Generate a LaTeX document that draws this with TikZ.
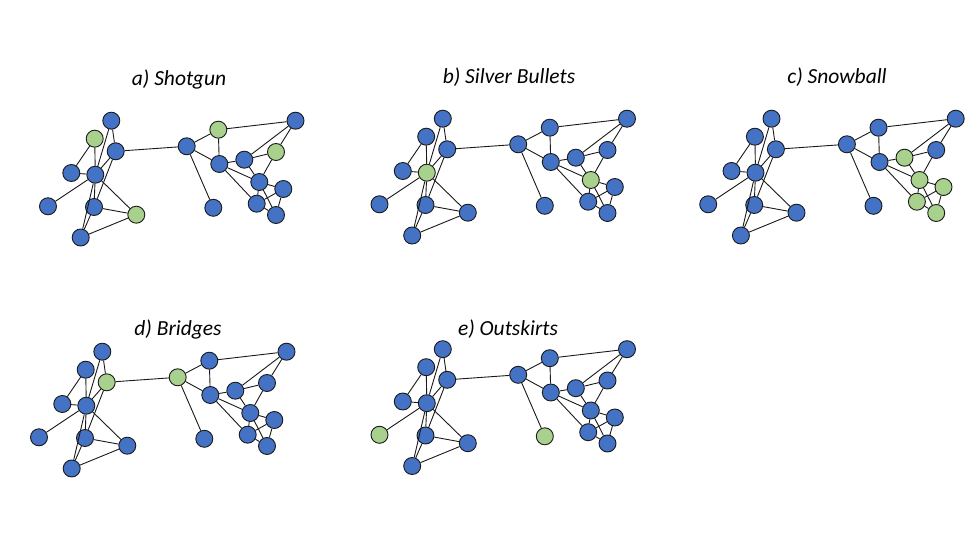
\documentclass[tikz,border=0pt]{standalone}
\usepackage{fontspec}
\setmainfont{Carlito}
\definecolor{nblue}{HTML}{4472C4}
\definecolor{ngreen}{HTML}{A9D18E}
\definecolor{nline}{HTML}{1A1A1A}
\tikzset{
  bn/.style={circle, draw=nline, fill=nblue, line width=0.9pt, minimum size=17pt, inner sep=0pt},
  gn/.style={bn, fill=ngreen},
  edge/.style={draw=nline, line width=0.9pt},
  ttl/.style={anchor=base, font=\itshape\fontsize{21.5}{25}\selectfont},
  nA/.style={bn}, nB/.style={bn}, nC/.style={bn}, nD/.style={bn}, nE/.style={bn},
  nF/.style={bn}, nG/.style={bn}, nH/.style={bn}, nI/.style={bn}, nJ/.style={bn},
  nK/.style={bn}, nL/.style={bn}, nM/.style={bn}, nN/.style={bn}, nO/.style={bn},
  nP/.style={bn}, nQ/.style={bn}, nR/.style={bn}, nS/.style={bn}, nT/.style={bn},
}
\newcommand\mygraph[1]{%
  \node[nA] (#1A) at (111.3,120.7) {};
  \node[nB] (#1B) at (94.7,138.7) {};
  \node[nC] (#1C) at (115.7,151.3) {};
  \node[nD] (#1D) at (71.3,173) {};
  \node[nE] (#1E) at (95.3,174.7) {};
  \node[nF] (#1F) at (48,206.3) {};
  \node[nG] (#1G) at (94,207) {};
  \node[nH] (#1H) at (136.3,214.7) {};
  \node[nI] (#1I) at (80.7,237.5) {};
  \node[nJ] (#1J) at (186.7,146.3) {};
  \node[nK] (#1K) at (218.3,129.7) {};
  \node[nL] (#1L) at (219.3,164) {};
  \node[nM] (#1M) at (213.3,207.8) {};
  \node[nN] (#1N) at (295.5,120.7) {};
  \node[nO] (#1O) at (244.3,159.7) {};
  \node[nP] (#1P) at (276,152) {};
  \node[nQ] (#1Q) at (259.3,182) {};
  \node[nR] (#1R) at (283.3,189) {};
  \node[nS] (#1S) at (256.7,203.7) {};
  \node[nT] (#1T) at (276,215) {};
  \draw[edge] (#1A) -- (#1C);
  \draw[edge] (#1A) -- (#1E);
  \draw[edge] (#1B) -- (#1D);
  \draw[edge] (#1B) -- (#1E);
  \draw[edge] (#1C) -- (#1E);
  \draw[edge] (#1C) -- (#1G);
  \draw[edge] (#1D) -- (#1E);
  \draw[edge] (#1E) -- (#1F);
  \draw[edge] (#1E) -- (#1G);
  \draw[edge] (#1E) -- (#1H);
  \draw[edge] (#1E) -- (#1I);
  \draw[edge] (#1G) -- (#1H);
  \draw[edge] (#1G) -- (#1I);
  \draw[edge] (#1H) -- (#1I);
  \draw[edge] (#1C) -- (#1J);
  \draw[edge] (#1J) -- (#1K);
  \draw[edge] (#1J) -- (#1L);
  \draw[edge] (#1J) -- (#1M);
  \draw[edge] (#1K) -- (#1L);
  \draw[edge] (#1K) -- (#1N);
  \draw[edge] (#1N) -- (#1O);
  \draw[edge] (#1N) -- (#1P);
  \draw[edge] (#1O) -- (#1P);
  \draw[edge] (#1L) -- (#1O);
  \draw[edge] (#1L) -- (#1Q);
  \draw[edge] (#1L) -- (#1S);
  \draw[edge] (#1O) -- (#1Q);
  \draw[edge] (#1P) -- (#1Q);
  \draw[edge] (#1Q) -- (#1R);
  \draw[edge] (#1Q) -- (#1S);
  \draw[edge] (#1Q) -- (#1T);
  \draw[edge] (#1S) -- (#1R);
  \draw[edge] (#1S) -- (#1T);
  \draw[edge] (#1R) -- (#1T);
}
\begin{document}
\begin{tikzpicture}[x=1pt,y=-1pt]
\useasboundingbox[fill=white] (0,0) rectangle (980,537);
\node[ttl] (ta) at (179,86) {a) Shotgun};
\node[ttl] (tb) at (509,84) {b) Silver Bullets};
\node[ttl] (tc) at (837,84) {c) Snowball};
\node[ttl] (td) at (178,335) {d) Bridges};
\node[ttl] (te) at (508,336) {e) Outskirts};
\begin{scope}[nB/.style={gn}, nH/.style={gn}, nK/.style={gn}, nP/.style={gn}]
  \mygraph{a}
\end{scope}
\begin{scope}[shift={(331.5,-2)}, nE/.style={gn}, nQ/.style={gn}]
  \mygraph{b}
\end{scope}
\begin{scope}[shift={(660.2,-2)}, nO/.style={gn}, nQ/.style={gn}, nR/.style={gn}, nS/.style={gn}, nT/.style={gn}]
  \mygraph{c}
\end{scope}
\begin{scope}[shift={(-9,231)}, nC/.style={gn}, nJ/.style={gn}]
  \mygraph{d}
\end{scope}
\begin{scope}[shift={(331.5,228.5)}, nF/.style={gn}, nM/.style={gn}]
  \mygraph{e}
\end{scope}
\end{tikzpicture}
\end{document}
